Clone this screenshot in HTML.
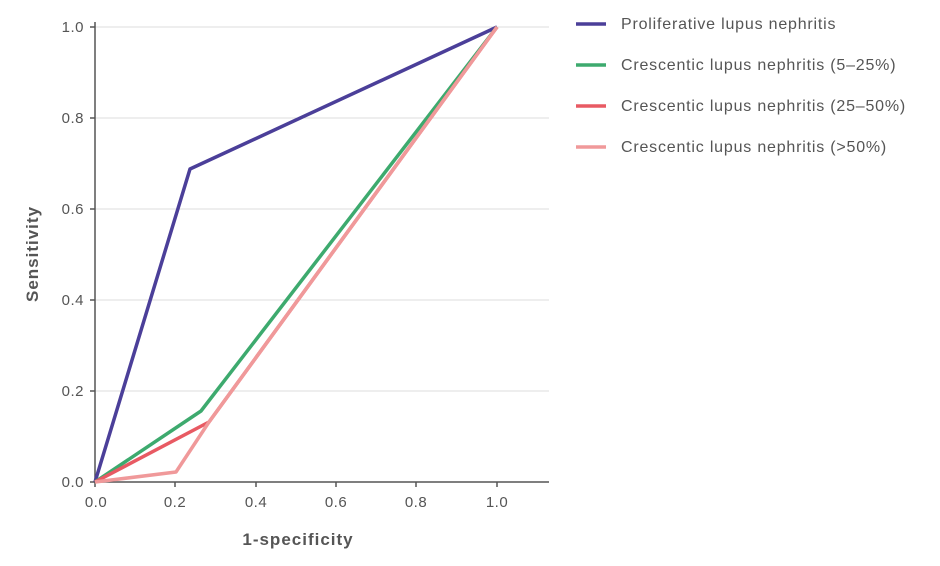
<!DOCTYPE html>
<html><head><style>body{margin:0;background:#fff}svg{display:block;font-family:"Liberation Sans",sans-serif}</style></head><body>
<svg width="940" height="566" viewBox="0 0 940 566">
<g stroke="#dcdcdc" stroke-width="1">
<line x1="95" y1="27" x2="549" y2="27"/><line x1="95" y1="118" x2="549" y2="118"/><line x1="95" y1="209" x2="549" y2="209"/><line x1="95" y1="300" x2="549" y2="300"/><line x1="95" y1="391" x2="549" y2="391"/>
</g>
<g stroke="#555" stroke-width="1.5">
<line x1="95" y1="22" x2="95" y2="482"/><line x1="95" y1="482" x2="549" y2="482"/>
<line x1="90" y1="27" x2="95" y2="27"/><line x1="90" y1="118" x2="95" y2="118"/><line x1="90" y1="209" x2="95" y2="209"/><line x1="90" y1="300" x2="95" y2="300"/><line x1="90" y1="391" x2="95" y2="391"/><line x1="90" y1="482" x2="95" y2="482"/>
<line x1="95" y1="482" x2="95" y2="487"/><line x1="175" y1="482" x2="175" y2="487"/><line x1="256" y1="482" x2="256" y2="487"/><line x1="336" y1="482" x2="336" y2="487"/><line x1="416" y1="482" x2="416" y2="487"/><line x1="497" y1="482" x2="497" y2="487"/>
</g>
<g fill="#555" font-size="15" text-anchor="end" letter-spacing="0.5">
<text x="84" y="32">1.0</text><text x="84" y="123">0.8</text><text x="84" y="214">0.6</text><text x="84" y="305">0.4</text><text x="84" y="396">0.2</text><text x="84" y="487">0.0</text>
</g>
<g fill="#555" font-size="15" text-anchor="middle" letter-spacing="0.5">
<text x="96" y="507">0.0</text><text x="175" y="507">0.2</text><text x="256" y="507">0.4</text><text x="336" y="507">0.6</text><text x="416" y="507">0.8</text><text x="497" y="507">1.0</text>
</g>
<text x="298" y="545" font-size="17" font-weight="bold" fill="#555" text-anchor="middle" letter-spacing="1">1-specificity</text>
<text transform="translate(38,254) rotate(-90)" font-size="17" font-weight="bold" fill="#555" text-anchor="middle" letter-spacing="1">Sensitivity</text>
<g fill="none" stroke-width="3.5" stroke-linejoin="round">
<polyline stroke="#4b3f99" points="95,482 190,169 497,27"/>
<polyline stroke="#3daa6e" points="95,482 201,411 497,27"/>
<polyline stroke="#e85a63" points="95,482 209,422 497,27"/>
<polyline stroke="#f0999a" points="95,482 176,472 209,422 497,27"/>
</g>
<g stroke-width="3.5">
<line x1="576" y1="24" x2="606" y2="24" stroke="#4b3f99"/>
<line x1="576" y1="65" x2="606" y2="65" stroke="#3daa6e"/>
<line x1="576" y1="106" x2="606" y2="106" stroke="#e85a63"/>
<line x1="576" y1="147" x2="606" y2="147" stroke="#f0999a"/>
</g>
<g fill="#555" font-size="16" letter-spacing="0.8">
<text x="621" y="29">Proliferative lupus nephritis</text>
<text x="621" y="70">Crescentic lupus nephritis (5–25%)</text>
<text x="621" y="111">Crescentic lupus nephritis (25–50%)</text>
<text x="621" y="152">Crescentic lupus nephritis (&gt;50%)</text>
</g>
</svg>
</body></html>
